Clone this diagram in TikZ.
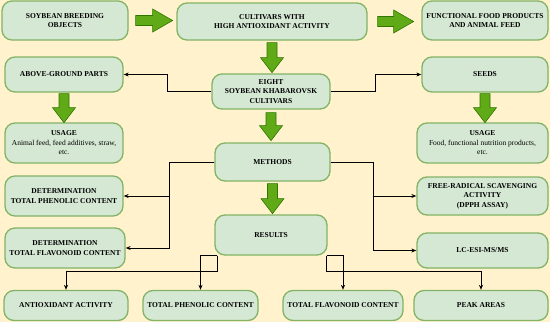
\documentclass[tikz,border=0pt]{standalone}
\usepackage{fontspec}
\setmainfont{Liberation Serif}
\usetikzlibrary{arrows.meta}
\definecolor{cream}{HTML}{FFF2CC}
\definecolor{boxfill}{HTML}{D5E8D4}
\definecolor{boxline}{HTML}{82B366}
\definecolor{arrowfill}{HTML}{60A917}
\definecolor{arrowline}{HTML}{2D7600}

\begin{document}
\begin{tikzpicture}[x=1pt,y=-1pt,
  greenbox/.style={draw=boxline, fill=boxfill, line width=1.3pt, rounded corners=10pt,
    align=center, inner sep=2pt, font={\fontsize{7.5}{9.5}\selectfont\bfseries}},
  link/.style={line width=1pt, -{Stealth[length=5pt,width=4pt]}},
  bigarrow/.style={draw=arrowline, fill=arrowfill, line width=0.6pt, line join=miter},
  pics/fatarrow/.style 2 args={code={
    \draw[bigarrow] (0,-5) -- (#1-#2,-5) -- (#1-#2,-11.5) -- (#1,0) -- (#1-#2,11.5) -- (#1-#2,5) -- (0,5) -- cycle;}}]
\fill[cream] (0,0) rectangle (550,322);
\useasboundingbox (0,0) rectangle (550,322);
\node[greenbox, minimum width=126, minimum height=39] (obj) at (65,20.5) {SOYBEAN BREEDING\\OBJECTS};
\node[greenbox, minimum width=190, minimum height=37] (cult) at (272,21.5) {CULTIVARS WITH\\HIGH ANTIOXIDANT ACTIVITY};
\node[greenbox, minimum width=126, minimum height=39] (func) at (485,20.5) {FUNCTIONAL FOOD PRODUCTS\\AND ANIMAL FEED};
\node[greenbox, minimum width=118, minimum height=35] (above) at (64,74.5) {ABOVE-GROUND PARTS};
\node[greenbox, minimum width=118, minimum height=35] (eight) at (271,91.5) {EIGHT\\SOYBEAN KHABAROVSK\\CULTIVARS};
\node[greenbox, minimum width=126, minimum height=35] (seeds) at (485,74.5) {SEEDS};
\node[greenbox, minimum width=118, minimum height=40] (usageL) at (64,143) {USAGE\\\normalfont Animal feed, feed additives, straw,\\\normalfont etc.};
\node[greenbox, minimum width=115, minimum height=38] (methods) at (272.5,162) {METHODS};
\node[greenbox, minimum width=131, minimum height=40] (usageR) at (482.5,143) {USAGE\\\normalfont Food, functional nutrition products,\\\normalfont etc.};
\node[greenbox, minimum width=118, minimum height=40] (detP) at (64,196) {DETERMINATION\\TOTAL PHENOLIC CONTENT};
\node[greenbox, minimum width=131, minimum height=38] (free) at (482.5,196) {FREE-RADICAL SCAVENGING\\ACTIVITY\\(DPPH ASSAY)};
\node[greenbox, minimum width=120, minimum height=40] (detF) at (65,248) {DETERMINATION\\TOTAL FLAVONOID CONTENT};
\node[greenbox, minimum width=131, minimum height=35] (lcesi) at (482.5,250.5) {LC-ESI-MS/MS};
\node[greenbox, minimum width=112, minimum height=40] (results) at (271,235) {RESULTS};
\node[greenbox, minimum width=124, minimum height=30] (antiox) at (66,305.5) {ANTIOXIDANT ACTIVITY};
\node[greenbox, minimum width=115, minimum height=30] (totphen) at (200.5,305.5) {TOTAL PHENOLIC CONTENT};
\node[greenbox, minimum width=120, minimum height=30] (totflav) at (343,305.5) {TOTAL FLAVONOID CONTENT};
\node[greenbox, minimum width=134, minimum height=30] (peak) at (481,305.5) {PEAK AREAS};
% block arrows
\pic at ([xshift=7pt]obj.east) {fatarrow={37}{20}};
\pic at ([xshift=10pt]cult.east) {fatarrow={36}{20}};
\pic[rotate=-90] at ([yshift=-2pt]cult.south) {fatarrow={30}{15}};
\pic[rotate=-90] at ([yshift=-1pt]above.south) {fatarrow={29}{15}};
\pic[rotate=-90] at ([yshift=-1pt]seeds.south) {fatarrow={29}{15}};
\pic[rotate=-90] at ([yshift=-3pt]eight.south) {fatarrow={28}{15}};
\pic[rotate=-90] at ([yshift=-2pt]methods.south) {fatarrow={30}{15}};
% connectors
\draw[link] (eight.west) -- ++(-44,0) |- (above.east);
\draw[link] (eight.east) -- ++(45,0) |- (seeds.west);
\draw[link] (methods.west) -- ++(-45,0) |- (detP.east);
\draw[link] (methods.west) -- ++(-45,0) |- (detF.east);
\draw[link] (methods.east) -- ++(43,0) |- (free.west);
\draw[link] (methods.east) -- ++(43,0) |- (lcesi.west);
\draw[link] ([xshift=3pt]results.south west) -- ++(0,16) -| (antiox.north);
\draw[link] ([xshift=3pt]results.south west) -| (totphen.north);
\draw[link] ([xshift=-1pt]results.south east) -| (totflav.north);
\draw[link] ([xshift=-1pt]results.south east) -- ++(0,16) -| (peak.north);
\end{tikzpicture}
\end{document}
